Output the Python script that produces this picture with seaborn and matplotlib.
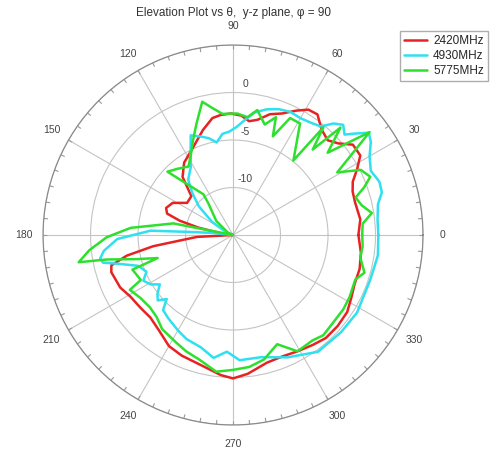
import numpy as np
import matplotlib
matplotlib.use("Agg")
import matplotlib.pyplot as plt
import matplotlib.transforms as mtransforms
import seaborn as sns

# data (angle in degrees, gain in dB)
red_deg = [0, 7, 15, 20, 24, 28, 32, 37, 41, 45, 50, 55, 59, 63, 68, 73, 78, 82, 86, 91,
           96, 100, 106, 114, 124, 131, 137, 145, 152, 158, 162, 165, 168, 173, 178, 183,
           188, 191, 194, 197, 205, 211, 218, 225, 232, 240, 247, 256, 265, 270, 276, 285,
           292, 299, 306, 312, 319, 326, 332, 338, 345, 352, 360]
red_db = [-1.8, -1.5, -1.7, -1.6, -1.2, -0.2, 0.8, 0.8, -0.3, -0.9, -0.5, 0.5, 0.4, -0.3,
          -1.2, -1.7, -2.6, -2.9, -2.4, -2.2, -2.3, -2.5, -3.5, -4.8, -5.8, -6.9, -9.0,
          -9.1, -7.8, -7.4, -7.7, -9.2, -11.3, -13.9, -15.0, -11.2, -6.5, -3.6, -1.8, -1.6,
          -1.9, -2.4, -2.6, -2.7, -2.3, -1.5, -1.2, -0.9, -0.2, 0.1, -0.3, -1.1, -1.2, -1.0,
          -0.7, -0.4, -0.4, -0.5, -0.9, -1.2, -1.2, -1.4, -1.8]

cyan_deg = [0, 6, 12, 16, 20, 25, 30, 34, 37, 40, 42, 45, 48, 51, 55, 60, 65, 70, 75, 80,
            84, 88, 92, 96, 100, 104, 108, 113, 118, 122, 129, 134, 140, 148, 158, 166, 174,
            176, 177, 182, 187, 190, 192, 194, 198, 203, 207, 211, 214, 218, 221, 224, 227,
            232, 240, 246, 254, 261, 267, 273, 283, 294, 306, 318, 328, 342, 352, 360]
cyan_db = [0.3, 0.3, 0.6, 1.3, 1.4, 1.0, 1.6, 2.5, 2.9, 1.6, 0.8, 1.4, 0.8, -0.3, -0.6,
           -0.8, -0.7, -0.9, -1.3, -1.9, -2.8, -3.6, -4.1, -4.3, -5.1, -4.5, -4.1, -3.6,
           -5.5, -6.6, -7.5, -8.8, -10.3, -12.4, -14.2, -15.0, -12.9, -10.3, -6.3, -2.8,
           -1.3, -0.8, -1.0, -2.5, -4.5, -5.1, -4.4, -4.9, -5.7, -4.9, -4.5, -5.3, -4.2,
           -3.9, -3.4, -3.0, -2.7, -1.9, -2.7, -1.8, -1.8, -0.9, 0.2, 0.3, 0.4, 0.2, 0.4, 0.3]

green_deg = [0, 5, 9, 13, 17, 20, 23, 27, 31, 37, 41, 45, 47, 50, 51, 59, 64, 68, 70, 74,
             79, 83, 88, 95, 100, 103, 108, 113, 117, 123, 130, 136, 132, 126, 128, 140, 155,
             170, 169, 176, 181, 186, 190, 191, 194, 197, 199, 206, 208, 214, 221, 227, 233,
             242, 248, 255, 263, 270, 277, 284, 292, 299, 307, 312, 319, 326, 332, 340, 344,
             350, 355, 360]
green_db = [-1.4, -1.3, -0.2, -1.1, -1.5, -0.3, 0.7, 0.1, -2.2, 3.0, -1.8, 1.0, -2.7, -0.2,
            -4.9, -1.3, -1.3, -3.8, -1.8, -2.9, -1.6, -2.5, -2.2, -2.2, -1.3, -0.6, -2.6,
            -4.2, -5.3, -6.4, -5.9, -5.4, -7.8, -9.7, -10.8, -12.7, -14.4, -15.0, -8.6,
            -4.2, -1.7, 0.2, 1.5, -1.5, -4.5, -6.7, -3.8, -4.2, -2.7, -3.2, -3.4, -3.2, -2.6,
            -2.2, -1.8, -1.4, -0.5, -0.8, -1.0, -1.5, -2.6, -1.0, -1.1, -0.8, -1.0, -1.0,
            -1.1, -1.3, -0.6, -1.4, -1.3, -1.4]

series_names = ["2420MHz", "4930MHz", "5775MHz"]
series_colors = ["#e82222", "#2ee0f0", "#2ee02e"]
ring_values = [-10, -5, 0, 5]
ring_labels = ["-10", "-5", "0", ""]
angle_labels = [str(a) for a in range(0, 360, 30)]

sns.set_style("white")
plt.rcParams["font.family"] = ["Liberation Sans", "DejaVu Sans"]

fig = plt.figure(figsize=(4.91, 4.55), dpi=100)
ax = fig.add_axes([0.0876, 0.066, 0.774, 0.835], projection="polar")

curves = [(red_deg, red_db), (cyan_deg, cyan_db), (green_deg, green_db)]
for (deg, db), name, col in zip(curves, series_names, series_colors):
    sns.lineplot(x=np.deg2rad(deg), y=db, ax=ax, sort=False, estimator=None,
                 color=col, lw=1.8, label=name, legend=False)

ax.set_ylim(-15, 5)
ax.set_yticks(ring_values)
ax.set_yticklabels([])
ax.set_thetagrids(range(0, 360, 30), angle_labels)
ax.tick_params(axis="x", length=0, labelsize=7.5, labelcolor="#444444", pad=7)
ax.grid(True, color="#c4c4c4", lw=0.8, ls="-")
ax.spines["polar"].set_color("#8a8a8a")
ax.spines["polar"].set_linewidth(0.9)
ax.set_xlabel("")
ax.set_ylabel("")

# small inward tick marks every 5 degrees on the outer circle
tick_angles = np.deg2rad(np.arange(0, 360, 5))
ax.vlines(tick_angles, 4.55, 5, color="#9a9a9a", lw=0.8, zorder=1)
ax.set_ylim(-15, 5)

# ring labels a little right of and above the vertical spoke
shift = mtransforms.offset_copy(ax.transData, fig=fig, x=9, y=6, units="points")
for v, lab in zip(ring_values, ring_labels):
    ax.text(np.pi / 2, v, lab, transform=shift, ha="center", va="center",
            fontsize=7.5, color="#444444")

fig.text(0.475, 0.972, "Elevation Plot vs θ,  y-z plane, φ = 90", ha="center",
         va="center", fontsize=8.5, color="#333333")

handles, labels = ax.get_legend_handles_labels()
fig.legend(handles, labels, loc="upper right", bbox_to_anchor=(1.006, 0.945),
           fontsize=8.5, frameon=True, fancybox=False, edgecolor="#999999",
           handlelength=2.0, labelspacing=0.25, borderpad=0.35, handletextpad=0.5)

fig.savefig("out.png", dpi=100)
